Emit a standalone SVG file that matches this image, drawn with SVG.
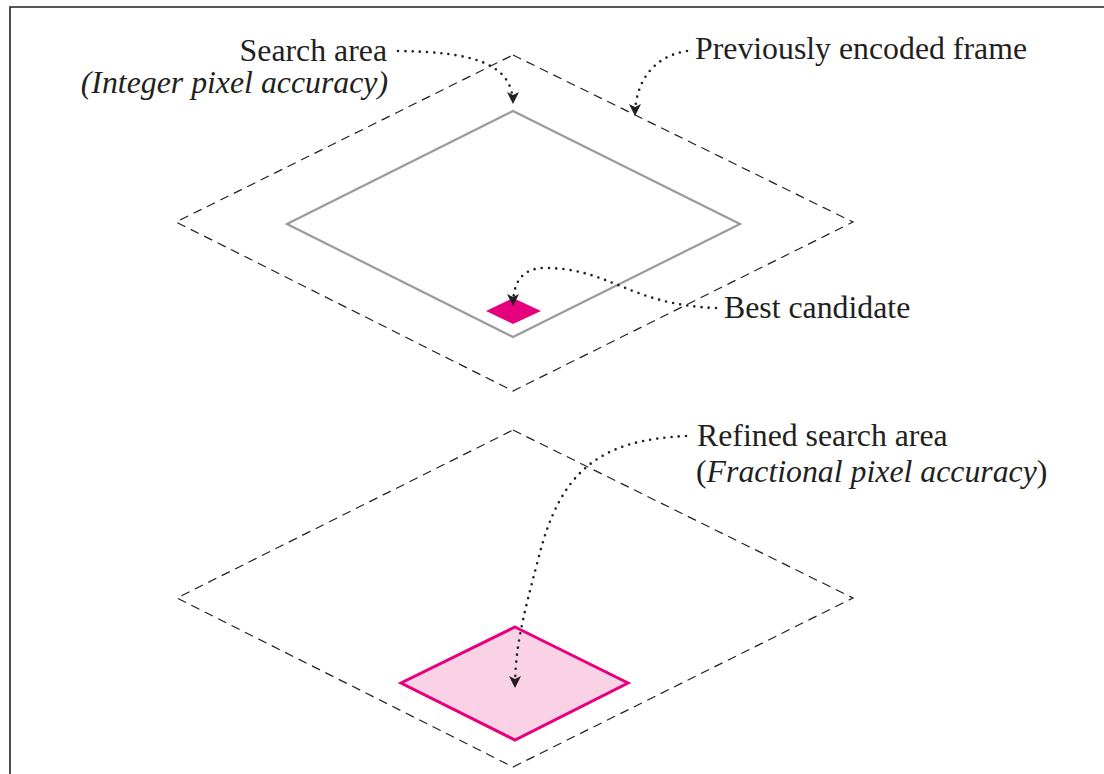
<svg xmlns="http://www.w3.org/2000/svg" width="1104" height="774" viewBox="0 0 1104 774">
  <style>
    .lbl { font-family: "Liberation Serif", "Times New Roman", serif; font-size: 31.8px; fill: #231f20; }
    .it { font-style: italic; }
    .frame { fill: none; stroke: #231f20; stroke-width: 1.2; stroke-dasharray: 9 6; }
    .search { fill: none; stroke: #9a9a9a; stroke-width: 2.2; }
    .dots { fill: none; stroke: #231f20; stroke-width: 2.6; stroke-linecap: round; stroke-dasharray: 0 7.2; }
  </style>
  <defs>
    <marker id="head" markerUnits="userSpaceOnUse" markerWidth="12" markerHeight="14" refX="12" refY="6" orient="auto">
      <path d="M0,0 L12,6 L0,12 L3,6 Z" fill="#231f20"/>
    </marker>
  </defs>

  <rect width="1104" height="774" fill="#ffffff"/>
  <!-- page border -->
  <path d="M10,774 V7 H1104" fill="none" stroke="#231f20" stroke-width="1.6"/>

  <!-- upper level: previously encoded frame with integer-pel search area -->
  <g id="prev-frame">
    <polygon class="frame" points="513,55 853,222 513,391 176,222"/>
  </g>
  <g id="search-area">
    <polygon class="search" points="513,111 740,224 513,337 287,224"/>
  </g>
  <g id="best-candidate">
    <polygon points="513,298 541,311 513,324 486,311" fill="#e6007e"/>
  </g>

  <!-- lower level: refined fractional-pel search area -->
  <g id="lower-frame">
    <polygon class="frame" points="513,430 853,598 513,767 177,598"/>
  </g>
  <g id="refined-area">
    <polygon points="515,627 628,683 515,740 401,683" fill="#f9d3e5" stroke="#e6007e" stroke-width="3"/>
  </g>

  <!-- labels -->
  <g id="label-search">
    <text class="lbl" x="387" y="61" text-anchor="end">Search area</text>
    <text class="lbl it" x="388" y="93" text-anchor="end">(Integer pixel accuracy)</text>
  </g>
  <g id="label-prev">
    <text class="lbl" x="695" y="59">Previously encoded frame</text>
  </g>
  <g id="label-best">
    <text class="lbl" x="724" y="318">Best candidate</text>
  </g>
  <g id="label-refined">
    <text class="lbl" x="697" y="446">Refined search area</text>
    <text class="lbl" x="696" y="482">(<tspan class="it">Fractional pixel accuracy</tspan>)</text>
  </g>

  <!-- dotted leader arrows -->
  <g id="connectors">
    <path class="dots" d="M398,51 C470,52 513,62 513,104" marker-end="url(#head)"/>
    <path class="dots" d="M687,51 C655,56 635,80 635,116" marker-end="url(#head)"/>
    <path class="dots" d="M716,308 C630,305 610,268 545,268 C522,268 513,282 513,306" marker-end="url(#head)"/>
    <path class="dots" d="M686,436 C600,440 560,470 538,560 C522,620 515,650 515,688" marker-end="url(#head)"/>
  </g>
</svg>
